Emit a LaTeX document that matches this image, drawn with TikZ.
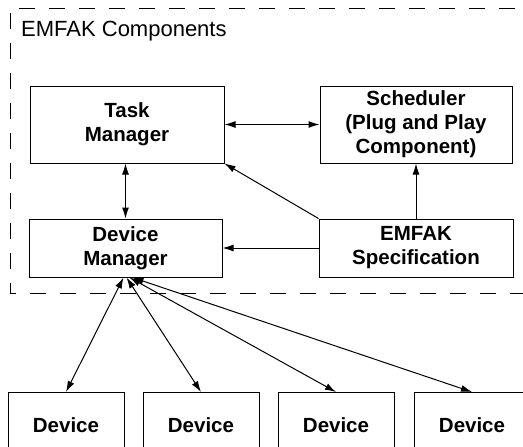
\documentclass[tikz,border=0pt]{standalone}
\usepackage{fontspec}
\setmainfont{Liberation Sans}
\usetikzlibrary{arrows.meta,calc}
\begin{document}
\begin{tikzpicture}[x=1pt,y=-1pt,
  box/.style={draw,line width=1pt,inner sep=0pt,align=center,
    font=\bfseries\fontsize{20.5}{24}\selectfont},
  devbox/.style={draw,line width=1pt,anchor=north,minimum width=116pt,
    inner xsep=0pt,inner ysep=25pt,text height=15pt,text depth=80pt,
    font=\bfseries\fontsize{20.5}{24}\selectfont},
  tip/.tip={Latex[length=11pt,width=7pt]},
  link/.style={line width=1pt,-tip},
  dlink/.style={line width=1pt,tip-tip},
  frame/.style={line width=0.9pt,dash pattern=on 16pt off 14pt}]
\useasboundingbox (0,0) rectangle (523,447);
\clip (0,0) rectangle (523,447);

% dashed boundary of the component group (right side runs off the page)
\draw[frame] (545,8) -- (10,8) -- (10,293) -- (545,293);
\node[anchor=base west,inner sep=0pt,font=\fontsize{22}{26}\selectfont]
  (title) at (21,36) {EMFAK Components};

% components
\node[box,minimum width=194pt,minimum height=77pt] (tm)  at (127,124.5) {Task\\Manager};
\node[box,minimum width=192pt,minimum height=77pt] (sch) at (416,124.5) {Scheduler\\(Plug and Play\\Component)};
\node[box,minimum width=193pt,minimum height=58pt] (dm)  at (125.5,248) {Device\\Manager};
\node[box,minimum width=194pt,minimum height=58pt] (spec) at (416,248) {EMFAK\\Specification};

% devices (lower edges run off the page)
\node[devbox] (d1) at (66,392)  {Device};
\node[devbox] (d2) at (201,392) {Device};
\node[devbox] (d3) at (336,392) {Device};
\node[devbox] (d4) at (472,392) {Device};

% connectors
\draw[dlink] (tm.east) -- (sch.west);
\draw[dlink] (tm.south -| dm.north) -- (dm.north);
\draw[link] (spec.north west) -- (tm.south east);
\draw[link] (spec.west) -- (dm.east);
\draw[link] (spec.north) -- (sch.south);
\draw[dlink] ($(dm.south)+(-2,0)$) -- (d1.north);
\draw[dlink] ($(dm.south)+(1,0)$) -- (d2.north);
\draw[dlink] ($(dm.south)+(4,0)$) -- (d3.north);
\draw[dlink] ($(dm.south)+(7,0)$) -- (d4.north);
\end{tikzpicture}
\end{document}
